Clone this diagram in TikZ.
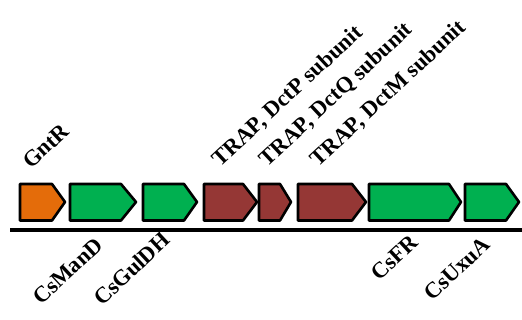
\documentclass[tikz,border=0pt]{standalone}
\usepackage{fontspec}
\setmainfont{Liberation Serif}
\definecolor{orangegene}{HTML}{E46C0A}
\definecolor{greengene}{HTML}{00B050}
\definecolor{browngene}{HTML}{953735}

\begin{document}
\begin{tikzpicture}[x=1pt,y=-1pt,
    gene/.style={draw=black,line width=2.6pt,line join=round},
    lbl/.style={rotate=43,anchor=base west,inner sep=0pt,
      font=\fontsize{22.5}{26}\selectfont\bfseries}]
  \useasboundingbox (0,0) rectangle (522,320);
  \draw[line width=4pt] (10,230.5) -- (522,230.5); % le chromosome
  \foreach \a/\s/\b/\c in {20/52/65/orangegene, 70/121/136/greengene,
      143/184/197/greengene, 204/243/257/browngene, 259/280/291/browngene,
      298/352/366/browngene, 369/449/461/greengene, 465/506/519/greengene}
    \draw[gene,fill=\c] % les genes
      (\a,184) -- (\s,184) -- (\b,202) -- (\s,220.5) -- (\a,220.5) -- cycle;
  % au-dessus
  \node[lbl] (gntr) at (31,170) {GntR};
  \node[lbl] (dctp) at (220,168) {TRAP, DctP subunit};
  \node[lbl] (dctq) at (267,168) {TRAP, DctQ subunit};
  \node[lbl] (dctm) at (318,168) {TRAP, DctM subunit};
  % au-dessous
  \node[lbl] (csmand) at (41,306) {CsManD};
  \node[lbl] (csguldh) at (102,307) {CsGulDH};
  \node[lbl] (csfr) at (379,282) {CsFR};
  \node[lbl] (csuxua) at (432,302) {CsUxuA};
\end{tikzpicture}
\end{document}
